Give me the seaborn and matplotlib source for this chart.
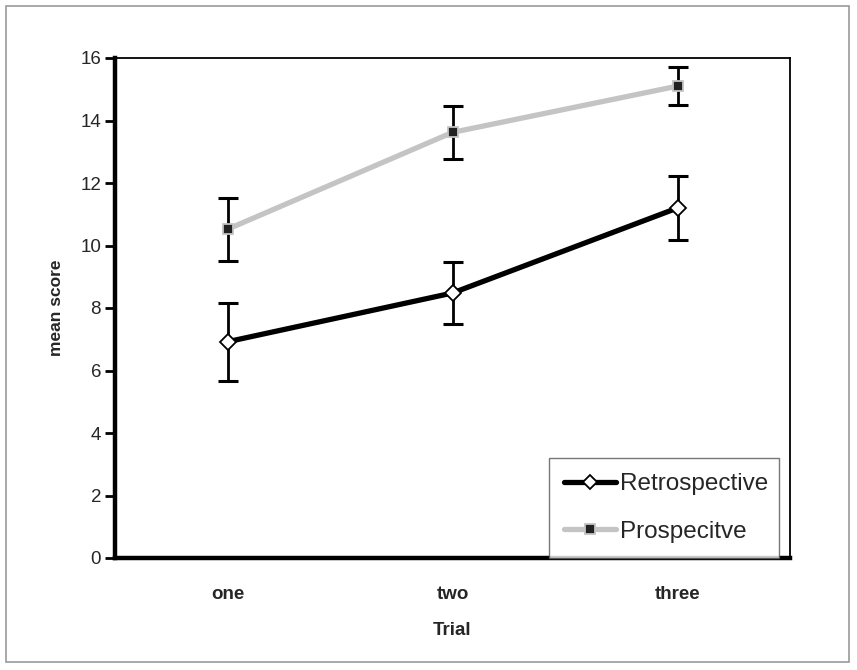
import matplotlib
matplotlib.use("Agg")
import matplotlib.pyplot as plt
import seaborn as sns
import pandas as pd
import numpy as np
from matplotlib.patches import Rectangle
from matplotlib.lines import Line2D

sns.set_style("white")
plt.rcParams['font.family'] = ['Liberation Sans', 'DejaVu Sans']

categories = ["one", "two", "three"]
retro_mean = [6.92, 8.48, 11.2]
retro_err = [1.25, 1.0, 1.02]
prosp_mean = [10.52, 13.62, 15.1]
prosp_err = [1.0, 0.85, 0.6]
series_names = ["Retrospective", "Prospecitve"]
y_ticks = [0, 2, 4, 6, 8, 10, 12, 14, 16]

GRAY = "#c4c4c4"

pos = np.arange(len(categories))
df = pd.DataFrame({
    "pos": np.concatenate([pos, pos]),
    "score": retro_mean + prosp_mean,
    "series": [series_names[0]] * 3 + [series_names[1]] * 3,
})

fig = plt.figure(figsize=(8.57, 6.70), dpi=100)
ax = fig.add_axes([115 / 857, 1 - 558 / 670, (790 - 115) / 857, (558 - 58) / 670])

# error bars
ax.errorbar(pos, retro_mean, yerr=retro_err, fmt='none', ecolor='black',
            elinewidth=2, capsize=7, capthick=2.2, zorder=2)
ax.errorbar(pos, prosp_mean, yerr=prosp_err, fmt='none', ecolor='black',
            elinewidth=2, capsize=7, capthick=2.2, zorder=2)

sns.lineplot(data=df, x="pos", y="score", hue="series",
             palette={series_names[0]: "black", series_names[1]: GRAY},
             linewidth=3.8, ax=ax, legend=False, zorder=3)
data_lines = [l for l in ax.lines if len(l.get_xdata()) == 3][-2:]
retro_line, prosp_line = data_lines
retro_line.set_marker("D"); retro_line.set_markersize(8)
retro_line.set_markerfacecolor("white"); retro_line.set_markeredgecolor("black")
retro_line.set_markeredgewidth(1.3)
prosp_line.set_marker("s"); prosp_line.set_markersize(7.5)
prosp_line.set_markerfacecolor("#222222"); prosp_line.set_markeredgecolor(GRAY)
prosp_line.set_markeredgewidth(1.3)
retro_line.set_zorder(4); prosp_line.set_zorder(4)

ax.set_xlim(-0.5, 2.5)
ax.set_ylim(0, 16)
ax.set_yticks(y_ticks)
ax.set_yticklabels([str(t) for t in y_ticks], fontsize=13.5)
ax.set_xticks(pos)
ax.set_xticklabels(categories, fontsize=13.5, fontweight="bold")
ax.set_xticks([-0.5, 0.5, 1.5, 2.5], minor=True)
ax.tick_params(axis="x", which="major", length=0, pad=20)
ax.tick_params(axis="x", which="minor", length=7, width=3, direction="out", color="black")
ax.tick_params(axis="y", which="major", length=7, width=2, direction="out", color="black", pad=3, left=True)

for s in ["left", "bottom"]:
    ax.spines[s].set_linewidth(3.2)
    ax.spines[s].set_color("black")
for s in ["top", "right"]:
    ax.spines[s].set_linewidth(1.3)
    ax.spines[s].set_color("black")

ax.set_xlabel("Trial", fontsize=13.5, fontweight="bold", labelpad=14)
ax.set_ylabel("mean score", fontsize=12.5, fontweight="bold", labelpad=12)

handles = [
    Line2D([], [], color="black", lw=3.8, marker="D", markersize=7,
           markerfacecolor="white", markeredgecolor="black", markeredgewidth=1.3),
    Line2D([], [], color=GRAY, lw=3.8, marker="s", markersize=7,
           markerfacecolor="#222222", markeredgecolor=GRAY, markeredgewidth=1.3),
]
leg = ax.legend(handles, series_names, loc="lower left",
                bbox_to_anchor=((549 - 115) / 675, 0.0, (779 - 549) / 675, (558 - 456) / 500),
                mode="expand", fontsize=17.5, frameon=True, fancybox=False,
                handlelength=2.15, handletextpad=0.15, labelspacing=1.05,
                borderpad=0.62, borderaxespad=0)
leg.get_frame().set_edgecolor("#555555")
leg.get_frame().set_linewidth(1.0)

fig.patches.append(Rectangle((6 / 857, 1 - 662 / 670), (849 - 6) / 857, (662 - 6) / 670,
                             transform=fig.transFigure, fill=False,
                             edgecolor="#9a9a9a", linewidth=1.2))

fig.savefig("out.png", dpi=100)
